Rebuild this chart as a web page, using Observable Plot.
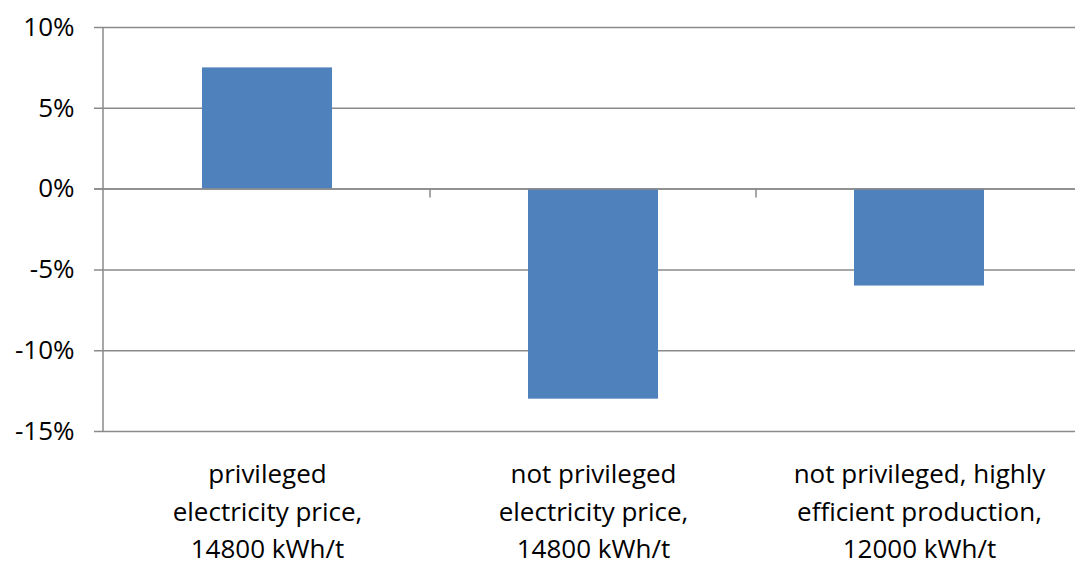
<!DOCTYPE html>
<html>
<head>
<meta charset="utf-8">
<script src="https://cdn.jsdelivr.net/npm/d3@7"></script>
<script src="https://cdn.jsdelivr.net/npm/@observablehq/plot@0.6"></script>
<style>
  html, body { margin: 0; padding: 0; background: #fff; overflow: hidden; }
  #chart { width: 1075px; height: 563px; overflow: hidden; }
</style>
</head>
<body>
<div id="chart"></div>
<script>
// Scenario labels (multi-line) and relative change for each scenario
const categories = [
  "privileged\nelectricity price,\n14800 kWh/t",
  "not privileged\nelectricity price,\n14800 kWh/t",
  "not privileged, highly\nefficient production,\n12000 kWh/t"
];
const values = [0.075, -0.13, -0.06];
const yTicks = [-0.15, -0.10, -0.05, 0, 0.05, 0.10];

const rows = categories.map((c, i) => ({category: c, value: values[i]}));

const gridColor = "#8a8a8a";
const fmt = d => Math.round(d * 100) + "%";
const font = "'Open Sans', Lato, sans-serif";

const plot = Plot.plot({
  width: 1083,
  height: 563,
  marginTop: 27,
  marginBottom: 132,
  marginLeft: 103,
  marginRight: 0,
  style: {
    fontFamily: font,
    fontSize: "26px",
    color: "#000",
    background: "#fff",
    maxWidth: "none",
    overflow: "visible"
  },
  x: {domain: categories, paddingInner: 0.6, paddingOuter: 0.3, axis: null, label: null},
  y: {domain: [-0.15, 0.10], axis: null, label: null},
  marks: [
    Plot.ruleY(yTicks, {stroke: gridColor, strokeWidth: 1.5, insetLeft: -9}),
    Plot.barY(rows, {x: "category", y: "value", fill: "#4F81BD"}),
    Plot.ruleY([0], {stroke: gridColor, strokeWidth: 1.5, insetLeft: -9}),
    Plot.axisY({ticks: yTicks, tickSize: 0, tickPadding: 29, tickFormat: fmt, label: null, fontSize: 26, fill: "#000"}),
    Plot.axisX({tickSize: 0, tickPadding: 25, lineHeight: 1.44, label: null, fontSize: 26, fill: "#000"})
  ]
});

// Value axis line and category separator ticks, placed with the plot's own scales
const xs = plot.scale("x");
const ys = plot.scale("y");
const svg = d3.select(plot);
const yZero = ys.apply(0);
const yTop = ys.apply(0.10);
const yBottom = ys.apply(-0.15);
svg.append("line")
  .attr("x1", xs.range[0]).attr("x2", xs.range[0])
  .attr("y1", yTop).attr("y2", yBottom)
  .attr("stroke", gridColor).attr("stroke-width", 1.5);
categories.slice(1).forEach(c => {
  const bx = xs.apply(c) + xs.bandwidth / 2 - xs.step / 2;
  svg.append("line")
    .attr("x1", bx).attr("x2", bx)
    .attr("y1", yZero).attr("y2", yZero + 9)
    .attr("stroke", gridColor).attr("stroke-width", 1.5);
});

document.getElementById("chart").append(plot);
</script>
</body>
</html>
